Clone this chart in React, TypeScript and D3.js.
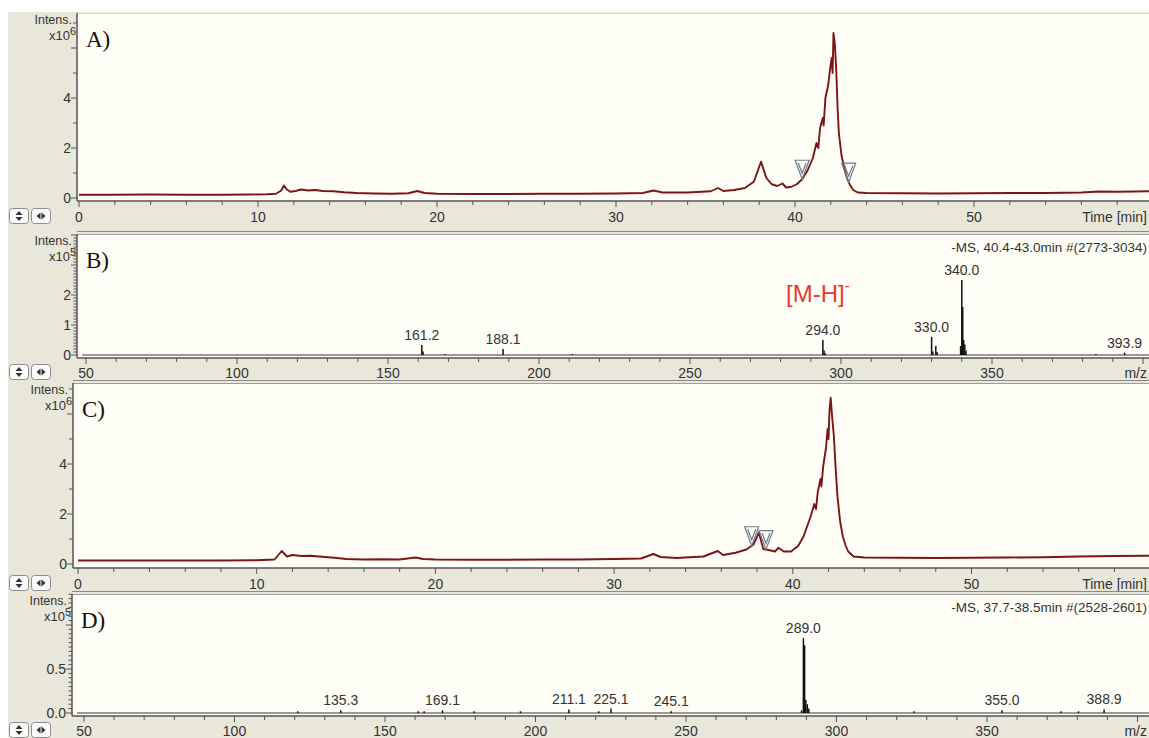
import React from "react";
import * as d3 from "d3";

type Pt = [number, number];

const W = 1149;
const H = 738;

// extracted ion chromatogram A (time min, intensity x10^6)
const chromA: Pt[] = [
  [0, 0.13], [2, 0.13], [4, 0.14], [6, 0.13], [8, 0.13], [9.5, 0.14], [10.5, 0.15], [11, 0.17],
  [11.3, 0.3], [11.45, 0.5], [11.6, 0.35], [11.8, 0.25], [12.1, 0.28], [12.4, 0.34], [12.8, 0.3],
  [13.2, 0.32], [13.6, 0.28], [14.2, 0.27], [14.8, 0.23], [15.5, 0.2], [16.5, 0.18], [17.5, 0.17],
  [18.4, 0.19], [18.9, 0.28], [19.3, 0.2], [20, 0.17], [22, 0.16], [24, 0.16], [26, 0.17], [28, 0.17],
  [30, 0.18], [31.5, 0.2], [32.1, 0.3], [32.6, 0.22], [34, 0.22], [35.3, 0.27], [35.7, 0.4], [36, 0.28],
  [36.6, 0.32], [37.2, 0.4], [37.7, 0.65], [38.1, 1.45], [38.4, 0.8], [38.7, 0.55], [39, 0.48],
  [39.3, 0.58], [39.5, 0.42], [39.8, 0.45], [40.1, 0.55], [40.4, 0.75], [40.7, 1.1], [41, 1.6],
  [41.2, 2.2], [41.3, 2.0], [41.4, 2.8], [41.55, 3.2], [41.6, 2.9], [41.7, 4.0], [41.85, 4.5],
  [41.95, 5.1], [42.05, 5.6], [42.1, 5.0], [42.15, 6.6], [42.22, 6.2], [42.3, 5.2], [42.38, 3.6],
  [42.45, 2.6], [42.6, 1.7], [42.75, 1.2], [42.9, 0.8], [43.05, 0.55], [43.25, 0.32], [43.5, 0.22],
  [44, 0.2], [46, 0.19], [48, 0.18], [50, 0.19], [52, 0.2], [54, 0.2], [56, 0.22], [57, 0.26],
  [58, 0.25], [60, 0.27],
];
const markersA = [40.4, 43.0];

// extracted ion chromatogram C
const chromC: Pt[] = [
  [0, 0.14], [4, 0.14], [8, 0.14], [10, 0.15], [11, 0.18], [11.4, 0.52], [11.7, 0.3], [12, 0.36],
  [12.5, 0.32], [13, 0.33], [13.5, 0.3], [14, 0.27], [14.5, 0.24], [15, 0.2], [16, 0.18], [17, 0.19],
  [18, 0.18], [18.9, 0.26], [19.3, 0.2], [20, 0.18], [22, 0.17], [24, 0.17], [26, 0.18], [28, 0.18],
  [30, 0.2], [31.5, 0.22], [32.2, 0.4], [32.6, 0.28], [33.5, 0.24], [35, 0.3], [35.8, 0.52],
  [36.1, 0.36], [36.8, 0.45], [37.4, 0.58], [37.8, 0.78], [38.1, 1.25], [38.35, 0.6], [38.7, 0.55],
  [39, 0.5], [39.2, 0.65], [39.5, 0.5], [39.9, 0.5], [40.3, 0.72], [40.6, 1.1], [41, 1.9],
  [41.2, 2.4], [41.3, 2.2], [41.4, 2.9], [41.55, 3.4], [41.6, 3.1], [41.7, 3.9], [41.85, 4.6],
  [41.95, 5.4], [42.0, 5.0], [42.05, 6.1], [42.12, 6.65], [42.2, 5.9], [42.3, 5.1], [42.4, 3.8],
  [42.5, 2.7], [42.65, 1.7], [42.8, 1.1], [42.95, 0.75], [43.1, 0.5], [43.4, 0.3], [44, 0.26],
  [46, 0.25], [48, 0.24], [50, 0.25], [52, 0.26], [54, 0.27], [56, 0.3], [58, 0.32], [60, 0.33],
];
const markersC = [37.7, 38.5];

// mass spectrum B (m/z, intensity x10^5)
const specB: Pt[] = [
  [161.2, 0.33], [161.6, 0.12], [168.9, 0.03], [188.1, 0.2], [211, 0.03], [294.0, 0.5], [294.4, 0.15],
  [294.8, 0.05], [330.0, 0.6], [330.4, 0.12], [331.4, 0.3], [331.8, 0.1], [339.6, 0.3], [340.0, 2.5],
  [340.3, 1.6], [340.6, 0.5], [341.0, 0.35], [341.4, 0.15], [384.4, 0.03], [393.9, 0.08],
];
const labelsB = [161.2, 188.1, 294.0, 330.0, 340.0, 393.9];

// mass spectrum D
const specD: Pt[] = [
  [121, 0.02], [135.3, 0.03], [161, 0.02], [163, 0.02], [169.1, 0.03], [179.6, 0.02], [195, 0.02],
  [211.1, 0.04], [221, 0.02], [225.1, 0.05], [245.1, 0.02], [288.4, 0.03], [289.0, 0.85],
  [289.4, 0.77], [289.8, 0.15], [290.3, 0.1], [290.8, 0.05], [325.8, 0.02], [355.0, 0.03],
  [374.6, 0.02], [380.4, 0.02], [388.9, 0.04],
];
const labelsD = [135.3, 169.1, 211.1, 225.1, 245.1, 289.0, 355.0, 388.9];

const timeTicks = [0, 10, 20, 30, 40, 50];
const mzTicks = [50, 100, 150, 200, 250, 300, 350];
const yLabelsChrom = [0, 2, 4];
const yLabelsB = [0, 1, 2];
const yLabelsD = [0.0, 0.5];

const BG = "#e9e6da";
const PLOT_BG = "#fffff7";
const AXIS = "#555";
const TXT = "#333";
const SANS = "'Liberation Sans', Arial, sans-serif";
const SERIF = "'Liberation Serif', 'Times New Roman', serif";

function Buttons({ y }: { y: number }) {
  return (
    <g>
      <rect x={9.5} y={y + 0.5} width={19} height={15} rx={3} fill="#fbfbfb" stroke="#8c8c8c" />
      <path d={`M19,${y + 3} l-3.5,4 h7 z M19,${y + 13} l-3.5,-4 h7 z`} fill="#333" />
      <rect x={31.5} y={y + 0.5} width={19} height={15} rx={3} fill="#fbfbfb" stroke="#8c8c8c" />
      <path d={`M36.5,${y + 8} l4,-3.5 v7 z M45.5,${y + 8} l-4,-3.5 v7 z`} fill="#333" />
    </g>
  );
}

function YTitle({ right, top, exp }: { right: number; top: number; exp: number }) {
  return (
    <g fontFamily={SANS} fill={TXT} textAnchor="end">
      <text x={right - 2} y={top + 11} fontSize={12.5}>Intens.</text>
      <text x={right + 2} y={top + 27} fontSize={13}>
        x10<tspan dy={-5} fontSize={11}>{exp}</tspan>
      </text>
    </g>
  );
}

function Frame({ axisX, top, axisY, letter, first }: { axisX: number; top: number; axisY: number; letter: string; first?: boolean }) {
  return (
    <g>
      <rect x={axisX} y={top} width={W - axisX} height={axisY - top} fill={PLOT_BG} />
      {!first && <line x1={axisX} x2={W} y1={top - 2.5} y2={top - 2.5} stroke="#8a8a8a" strokeWidth={1} />}
      <line x1={axisX} x2={W} y1={top + 0.5} y2={top + 0.5} stroke={first ? "#d8d8d8" : "#9c9c9c"} strokeWidth={1} />
      <text x={axisX + 9} y={top + 34} fontFamily={SERIF} fontSize={23} fill="#111">{letter}</text>
    </g>
  );
}

function ChromPanel({ data, markers, letter, top, zeroY, axisY, unitPx, axisX, x0, minPx, first, xTitle }: {
  data: Pt[]; markers: number[]; letter: string; top: number; zeroY: number; axisY: number; unitPx: number;
  axisX: number; x0: number; minPx: number; first?: boolean; xTitle: string;
}) {
  const x = d3.scaleLinear().domain([0, 10]).range([x0, x0 + 10 * minPx]);
  const y = d3.scaleLinear().domain([0, 1]).range([zeroY, zeroY - unitPx]);
  const yMax = y.invert(top);
  const line = d3.line<Pt>().x((d) => x(d[0])).y((d) => y(d[1]));
  const minorX = d3.range(0, x.invert(W), 2);
  const minorY = d3.range(0, Math.floor(yMax) + 1, 1);
  const bis = d3.bisector((d: Pt) => d[0]).left;
  const valueAt = (t: number) => {
    const i = bis(data, t);
    const a = data[i - 1];
    const b = data[i];
    return a[1] + ((b[1] - a[1]) * (t - a[0])) / (b[0] - a[0]);
  };
  const clipId = `clip-${letter}`;
  return (
    <g>
      <Frame axisX={axisX} top={top} axisY={axisY} letter={letter + ")"} first={first} />
      <clipPath id={clipId}>
        <rect x={axisX} y={top} width={W - axisX} height={axisY - top} />
      </clipPath>
      <path d={line(data) ?? ""} fill="none" stroke="#7c1515" strokeWidth={1.9} strokeLinejoin="round" clipPath={`url(#${clipId})`} />
      {markers.map((t) => (
        <g key={t} transform={`translate(${x(t)},${y(valueAt(t))})`} fill="none" stroke="#6c7f8c" strokeWidth={1.2}>
          <path d="M-7,-19 L7,-19 L0,0 Z" />
          <path d="M-4,-16.5 L0,-6 L4,-16.5" />
        </g>
      ))}
      {/* y axis */}
      <line x1={axisX} x2={axisX} y1={top} y2={axisY} stroke={AXIS} strokeWidth={1.5} />
      {minorY.map((v) => (
        <line key={v} x1={axisX - (v % 2 === 0 ? 6 : 4)} x2={axisX} y1={y(v)} y2={y(v)} stroke={AXIS} />
      ))}
      {yLabelsChrom.map((v) => (
        <text key={v} x={axisX - 6} y={y(v) + 5} textAnchor="end" fontFamily={SANS} fontSize={14} fill={TXT}>{v}</text>
      ))}
      <YTitle right={axisX - 3} top={top} exp={6} />
      {/* x axis */}
      <line x1={axisX} x2={W} y1={axisY} y2={axisY} stroke={AXIS} strokeWidth={1.5} />
      {minorX.map((t) => (
        <line key={t} x1={x(t)} x2={x(t)} y1={axisY} y2={axisY + (t % 10 === 0 ? 6 : 4)} stroke={AXIS} />
      ))}
      {timeTicks.map((t) => (
        <text key={t} x={x(t)} y={axisY + 21} textAnchor="middle" fontFamily={SANS} fontSize={14} fill={TXT}>{t}</text>
      ))}
      <text x={W - 2} y={axisY + 21} textAnchor="end" fontFamily={SANS} fontSize={14} fill={TXT}>{xTitle}</text>
      <Buttons y={axisY + 7} />
    </g>
  );
}

function SpecPanel({ data, labels, letter, top, zeroY, axisY, unitPx, axisX, x0, mzPx, yLabels, minorStep, header, fmt }: {
  data: Pt[]; labels: number[]; letter: string; top: number; zeroY: number; axisY: number; unitPx: number;
  axisX: number; x0: number; mzPx: number; yLabels: number[]; minorStep: number; header: string; fmt: (v: number) => string;
}) {
  const x = d3.scaleLinear().domain([50, 100]).range([x0, x0 + 50 * mzPx]);
  const y = d3.scaleLinear().domain([0, 1]).range([zeroY, zeroY - unitPx]);
  const yMax = y.invert(top + 2);
  const minorY = d3.range(0, Math.round(yMax / minorStep) + 1).map((i) => +(i * minorStep).toFixed(3));
  const minorX = d3.range(50, x.invert(W), 10);
  const labelled = labels.map((m) => {
    const near = data.filter((d) => Math.abs(d[0] - m) < 0.7);
    const top = d3.max(near, (d) => d[1]) ?? 0;
    return { m, v: top };
  });
  return (
    <g>
      <Frame axisX={axisX} top={top} axisY={axisY} letter={letter + ")"} />
      <text x={W - 2} y={top + 18} textAnchor="end" fontFamily={SANS} fontSize={13.5} fill={TXT}>{header}</text>
      <line x1={axisX + 5} x2={W} y1={zeroY} y2={zeroY} stroke="#9a9a9a" strokeWidth={2} />
      {data.map((d, i) => (
        <line key={i} x1={x(d[0])} x2={x(d[0])} y1={zeroY} y2={y(d[1])} stroke="#111" strokeWidth={1.5} />
      ))}
      {labelled.map((l) => (
        <text key={l.m} x={x(l.m)} y={y(l.v) - 5} textAnchor="middle" fontFamily={SANS} fontSize={14} fill={TXT}>
          {l.m.toFixed(1)}
        </text>
      ))}
      {/* y axis */}
      <line x1={axisX} x2={axisX} y1={top} y2={axisY} stroke={AXIS} strokeWidth={1.5} />
      {minorY.map((v) => {
        const major = yLabels.some((l) => Math.abs(l - v) < 1e-6) || Math.abs(v - Math.round(v)) < 1e-6;
        return <line key={v} x1={axisX - (major ? 6 : 3.5)} x2={axisX} y1={y(v)} y2={y(v)} stroke={AXIS} />;
      })}
      {yLabels.map((v) => (
        <text key={v} x={axisX - 6} y={y(v) + 5} textAnchor="end" fontFamily={SANS} fontSize={14} fill={TXT}>{fmt(v)}</text>
      ))}
      <YTitle right={axisX - 3} top={top} exp={5} />
      {/* x axis */}
      <line x1={axisX} x2={W} y1={axisY} y2={axisY} stroke={AXIS} strokeWidth={1.5} />
      {minorX.map((m) => (
        <line key={m} x1={x(m)} x2={x(m)} y1={axisY} y2={axisY + (m % 50 === 0 ? 6 : 4)} stroke={AXIS} />
      ))}
      {mzTicks.map((m) => (
        <text key={m} x={x(m)} y={axisY + 20} textAnchor="middle" fontFamily={SANS} fontSize={14} fill={TXT}>{m}</text>
      ))}
      <text x={W - 2} y={axisY + 20} textAnchor="end" fontFamily={SANS} fontSize={14} fill={TXT}>m/z</text>
      <Buttons y={axisY + 6} />
    </g>
  );
}

export default function App() {
  return (
    <div style={{ position: "fixed", left: 0, top: 0 }}>
      <svg width={W} height={H} style={{ display: "block" }}>
        <rect width={W} height={H} fill="#fff" />
        <rect x={8} y={12} width={W - 8} height={H - 12} fill={BG} />
        <ChromPanel data={chromA} markers={markersA} letter="A" top={13} zeroY={198} axisY={201} unitPx={25}
          axisX={77} x0={79} minPx={17.9} first xTitle="Time [min]" />
        <SpecPanel data={specB} labels={labelsB} letter="B" top={234} zeroY={355} axisY={358} unitPx={30}
          axisX={77} x0={86} mzPx={3.02} yLabels={yLabelsB} minorStep={0.1}
          header="-MS, 40.4-43.0min #(2773-3034)" fmt={(v) => String(v)} />
        <text x={786} y={302} fontFamily={SANS} fontSize={24} fill="#e8392e">
          [M-H]<tspan dy={-11} fontSize={15}>-</tspan>
        </text>
        <ChromPanel data={chromC} markers={markersC} letter="C" top={383} zeroY={564} axisY={568} unitPx={25}
          axisX={73} x0={78} minPx={17.87} xTitle="Time [min]" />
        <SpecPanel data={specD} labels={labelsD} letter="D" top={594} zeroY={713} axisY={716} unitPx={88}
          axisX={72} x0={84} mzPx={3.01} yLabels={yLabelsD} minorStep={0.05}
          header="-MS, 37.7-38.5min #(2528-2601)" fmt={(v) => v.toFixed(1)} />
      </svg>
    </div>
  );
}
